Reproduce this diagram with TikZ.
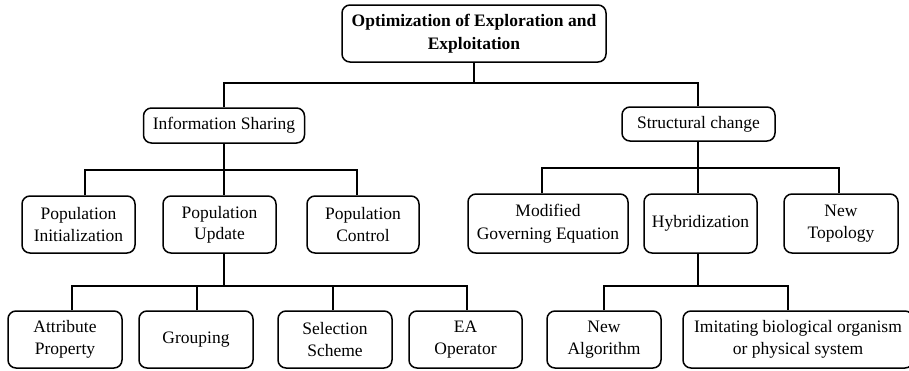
\documentclass[tikz,border=0pt]{standalone}
\usepackage{fontspec}
\setmainfont{Liberation Serif}
\begin{document}
\begin{tikzpicture}[x=1pt,y=-1pt,
  box/.style={draw, rounded corners=8pt, line width=1.5pt, align=center, inner sep=0pt,
    font=\fontsize{17.5}{22.5}\selectfont},
  conn/.style={line width=1.5pt}]
\clip (0,0) rectangle (909,370);
\useasboundingbox (0,0) rectangle (909,370);
% nodes
\node[box, font=\fontsize{17.5}{22.5}\selectfont\bfseries, minimum width=264pt, minimum height=57pt] (root) at (474,33.5) {Optimization of Exploration and\\Exploitation};
\node[box, minimum width=161pt, minimum height=35pt] (info) at (224,125.5) {Information Sharing};
\node[box, minimum width=153pt, minimum height=34pt] (struc) at (698.5,124) {Structural change};
\node[box, minimum width=113pt, minimum height=57pt] (pinit) at (78.5,224.5) {Population\\Initialization};
\node[box, minimum width=113pt, minimum height=57pt] (pupd) at (219.5,224.5) {\raisebox{2pt}{\shortstack{Population\\[2.5pt]Update}}};
\node[box, minimum width=112pt, minimum height=57pt] (pctrl) at (363,224.5) {Population\\Control};
\node[box, minimum width=160pt, minimum height=59pt] (modge) at (548,223.5) {Modified\\Governing Equation};
\node[box, minimum width=113pt, minimum height=59pt] (hyb) at (700.5,223.5) {Hybridization};
\node[box, minimum width=114pt, minimum height=59pt] (newtop) at (841,223.5) {New\\Topology};
\node[box, minimum width=114pt, minimum height=57pt] (attr) at (65,339.5) {Attribute\\Property};
\node[box, minimum width=114pt, minimum height=57pt] (grp) at (196,339.5) {Grouping};
\node[box, minimum width=114pt, minimum height=57pt] (sel) at (335,339.5) {Selection\\Scheme};
\node[box, minimum width=113pt, minimum height=57pt] (ea) at (465.5,339.5) {EA\\Operator};
\node[box, minimum width=114pt, minimum height=57pt] (newalg) at (604,339.5) {New\\Algorithm};
\node[box, minimum width=230pt, minimum height=57pt] (imit) at (798,339.5) {Imitating biological organism\\or physical system};
% bars
\coordinate (bar0) at (0,83);
\coordinate (bar1) at (0,170);
\coordinate (bar2) at (0,168);
\coordinate (bar3) at (0,286);
% connector ends
\coordinate (cPI) at ([xshift=6.5pt]pinit.north);
\coordinate (cPU) at ([xshift=4.5pt]pupd.north);
\coordinate (cPC) at ([xshift=-6pt]pctrl.north);
\coordinate (cPUs) at ([xshift=4.5pt]pupd.south);
\coordinate (cMG) at ([xshift=-6pt]modge.north);
\coordinate (cHY) at ([xshift=-2.5pt]hyb.north);
\coordinate (cNT) at ([xshift=-2pt]newtop.north);
\coordinate (cHYs) at ([xshift=-2.5pt]hyb.south);
\coordinate (cST) at ([xshift=-0.5pt]struc.south);
\coordinate (cSTn) at ([xshift=-0.5pt]struc.north);
\coordinate (cAT) at ([xshift=7pt]attr.north);
\coordinate (cGR) at ([xshift=1pt]grp.north);
\coordinate (cSE) at ([xshift=-2pt]sel.north);
\coordinate (cEA) at ([xshift=1.5pt]ea.north);
\coordinate (cNA) at (newalg.north);
\coordinate (cIM) at ([xshift=-10pt]imit.north);
% level 0 -> 1
\draw[conn] (root.south) -- (root.south |- bar0);
\draw[conn] (info.north) |- (bar0 -| cSTn) -- (cSTn);
% level 1 -> 2 left
\draw[conn] (cPI) |- (bar1 -| cPC) -- (cPC);
\draw[conn] (info.south) -- (cPU);
% level 1 -> 2 right
\draw[conn] (cMG) |- (bar2 -| cNT) -- (cNT);
\draw[conn] (cST) -- (cHY);
% level 2 -> 3 left
\draw[conn] (cAT) |- (bar3 -| cEA) -- (cEA);
\draw[conn] (cGR) -- (cGR |- bar3);
\draw[conn] (cSE) -- (cSE |- bar3);
\draw[conn] (cPUs) -- (cPUs |- bar3);
% level 2 -> 3 right
\draw[conn] (cNA) |- (bar3 -| cIM) -- (cIM);
\draw[conn] (cHYs) -- (cHYs |- bar3);
\end{tikzpicture}
\end{document}
